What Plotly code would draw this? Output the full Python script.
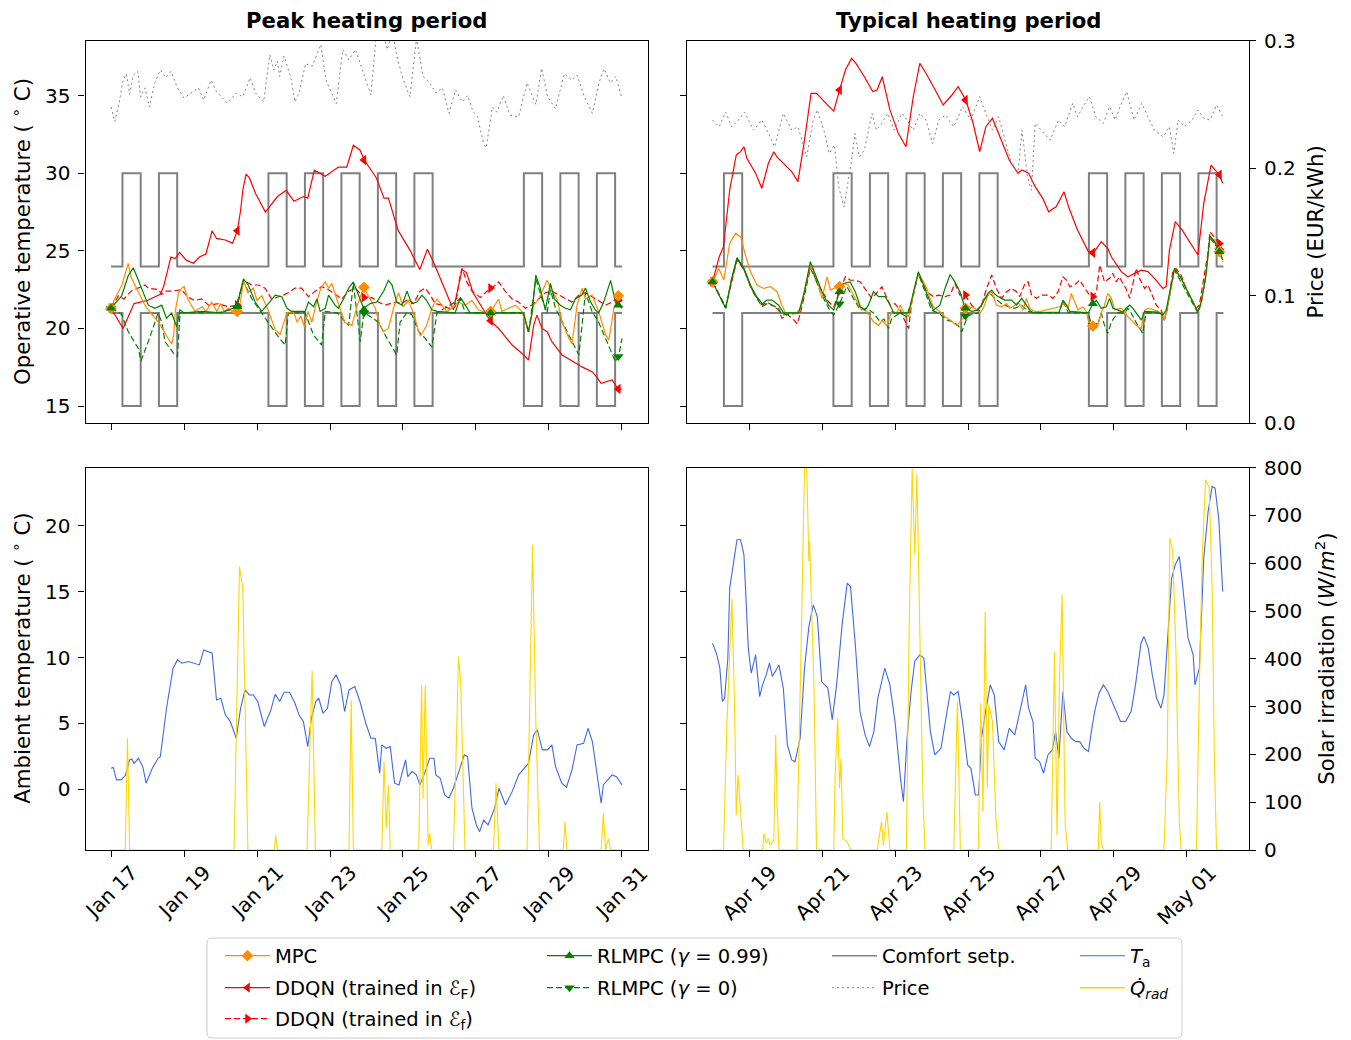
import numpy as np
import pandas as pd
import plotly.graph_objects as go

# page size and the default 8px body margin of the written html page
PAGE_W, PAGE_H = 1351, 1040
OFF = 8
W, H = PAGE_W - OFF, PAGE_H - OFF

# ---------------------------------------------------------------- data
PEAK_START = "2019-01-17"
TYP_START = "2019-04-18"
HORIZON_DAYS = 14
PEAK_TICKS = ["2019-01-17", "2019-01-19", "2019-01-21", "2019-01-23",
              "2019-01-25", "2019-01-27", "2019-01-29", "2019-01-31"]
TYP_TICKS = ["2019-04-19", "2019-04-21", "2019-04-23", "2019-04-25",
             "2019-04-27", "2019-04-29", "2019-05-01"]

# comfort schedule (day offsets with occupancy, hours of occupancy)
PEAK_OCC_DAYS = [0, 1, 4, 5, 6, 7, 8, 11, 12, 13]
TYP_OCC_DAYS = [0, 3, 4, 5, 6, 7, 10, 11, 12, 13]
OCC_HOURS = [7.5, 19.5]
UPPER_SETP = [30, 24]   # occupied, unoccupied
LOWER_SETP = [15, 21]

TEMP_TICKS = [15, 20, 25, 30, 35]
PRICE_TICKS = [0.0, 0.1, 0.2, 0.3]
TA_TICKS = [0, 5, 10, 15, 20]
QRAD_TICKS = [0, 100, 200, 300, 400, 500, 600, 700, 800]

# (day offset, operative temperature degC)
PEAK_MPC = [(0, 21.3), (0.1, 21.9), (0.3, 22.8), (0.47, 24.19), (0.55, 23.3), (0.75, 22.4), (0.95, 21.4),
            (1.3, 20.4), (1.5, 19.6), (1.66, 19.0), (1.72, 19.6), (1.76, 21.1), (1.85, 22.3), (1.94, 22.6),
            (2.0, 22.7), (2.1, 21.9), (2.2, 21.5), (2.3, 21.1), (2.5, 21.4), (2.6, 21.1), (2.76, 21.7),
            (2.9, 21.1), (3.0, 21.6), (3.1, 21.1), (3.21, 21.3), (3.35, 21.0), (3.47, 20.9), (3.55, 21.8),
            (3.63, 23.1), (3.75, 22.3), (3.9, 22.6), (4.0, 21.8), (4.13, 22.1), (4.3, 21.2), (4.5, 19.9),
            (4.63, 19.6), (4.82, 21.0), (5.0, 21.1), (5.1, 20.4), (5.2, 20.8), (5.3, 20.1), (5.4, 21.1),
            (5.5, 20.4), (5.62, 21.6), (5.75, 22.6), (5.87, 23.0), (5.96, 22.6), (6.05, 22.9), (6.2, 21.8),
            (6.4, 20.4), (6.6, 20.2), (6.75, 21.5), (6.92, 22.65), (7.1, 21.9), (7.24, 21.3), (7.37, 20.2),
            (7.47, 19.8), (7.6, 20.0), (7.74, 21.3), (7.88, 22.3), (8.0, 21.4), (8.15, 21.8), (8.3, 20.9),
            (8.43, 19.8), (8.48, 19.5), (8.65, 20.2), (8.79, 21.3), (8.93, 21.9), (9.07, 21.5), (9.2, 21.1),
            (9.34, 21.3), (9.52, 21.7), (9.7, 21.5), (9.89, 21.8), (10.07, 21.2), (10.26, 21.0), (10.44, 21.2),
            (10.62, 21.9), (10.71, 21.1), (10.9, 21.3), (11.08, 21.5), (11.26, 21.1), (11.44, 19.8),
            (11.58, 21.5), (11.72, 21.9), (11.95, 23.1), (12.08, 22.4), (12.22, 21.9), (12.36, 20.4),
            (12.54, 19.4), (12.63, 19.0), (12.77, 21.5), (12.91, 22.6), (13.0, 21.9), (13.18, 22.15),
            (13.36, 21.1), (13.55, 19.6), (13.64, 19.25), (13.78, 21.3), (13.91, 22.15), (14.0, 22.0)]
PEAK_DDQN_F = [(0, 21.3), (0.33, 20.0), (0.63, 21.6), (0.99, 21.8), (1.35, 22.2), (1.44, 22.7), (1.64, 24.6),
               (1.76, 24.5), (1.88, 24.9), (2.06, 24.4), (2.26, 24.2), (2.42, 24.6), (2.6, 24.8), (2.77, 26.3),
               (2.89, 25.8), (3.13, 25.7), (3.33, 25.5), (3.46, 26.3), (3.55, 27.6), (3.61, 28.9), (3.7, 29.95),
               (3.79, 29.7), (3.96, 28.7), (4.23, 27.5), (4.56, 28.5), (4.8, 28.9), (5.01, 28.2), (5.27, 28.5),
               (5.39, 28.4), (5.57, 30.2), (5.87, 29.8), (6.23, 30.4), (6.46, 30.4), (6.64, 31.8), (6.82, 31.5),
               (6.94, 30.85), (7.27, 29.7), (7.48, 28.4), (7.6, 28.4), (7.87, 26.3), (8.19, 25.05), (8.46, 23.8),
               (8.67, 25.1), (8.85, 24.2), (9.08, 22.9), (9.38, 21.2), (9.62, 23.8), (9.74, 23.6), (9.92, 22.3),
               (10.15, 21.4), (10.39, 20.5), (10.62, 20.0), (10.99, 18.93), (11.31, 18.29), (11.44, 17.96),
               (11.58, 20.2), (11.67, 20.86), (11.81, 20.0), (11.95, 19.79), (12.08, 19.15), (12.36, 18.29),
               (12.82, 17.64), (12.89, 17.54), (13.19, 17.2), (13.3, 16.9), (13.43, 16.47), (13.73, 16.68),
               (13.85, 16.25), (13.96, 16.08), (14.0, 16.1)]
PEAK_DDQN_f = [(0, 21.3), (0.2, 22.1), (0.35, 21.9), (0.55, 22.4), (0.93, 22.8), (1.02, 22.6), (1.3, 22.5),
               (1.39, 22.2), (1.48, 22.4), (1.66, 22.4), (1.93, 22.5), (2.12, 22.0), (2.3, 21.8), (2.48, 21.9),
               (2.67, 21.5), (2.94, 21.6), (3.21, 21.4), (3.44, 21.5), (3.63, 23.1), (3.86, 22.8), (4.04, 22.8),
               (4.22, 22.6), (4.4, 21.9), (4.68, 22.1), (4.86, 22.3), (5.04, 22.6), (5.22, 22.6), (5.41, 22.05),
               (5.59, 22.4), (5.77, 22.7), (5.96, 22.5), (6.14, 22.2), (6.32, 21.9), (6.51, 22.4), (6.69, 22.6),
               (6.92, 22.0), (7.05, 21.9), (7.14, 22.0), (7.33, 21.7), (7.51, 21.5), (7.79, 21.7), (7.97, 21.6),
               (8.15, 21.9), (8.29, 21.6), (8.47, 22.4), (8.61, 22.6), (8.75, 22.15), (8.88, 21.6), (9.07, 21.5),
               (9.25, 21.3), (9.43, 21.4), (9.57, 23.5), (9.62, 23.87), (9.75, 23.0), (9.89, 22.4), (10.12, 22.0),
               (10.3, 22.4), (10.44, 22.6), (10.62, 23.0), (10.8, 22.4), (10.99, 21.9), (11.17, 21.7),
               (11.35, 21.3), (11.53, 21.5), (11.72, 21.9), (11.9, 22.3), (12.08, 22.4), (12.27, 22.15),
               (12.45, 21.9), (12.63, 21.7), (12.82, 22.15), (13.0, 22.3), (13.18, 22.05), (13.36, 21.8),
               (13.55, 21.5), (13.73, 21.7), (13.91, 22.0), (14.0, 21.8)]
PEAK_RLMPC_99 = [(0, 21.3), (0.29, 22.1), (0.47, 23.4), (0.61, 23.9), (0.7, 23.4), (0.84, 22.6), (1.02, 21.5),
                 (1.2, 21.3), (1.39, 21.5), (1.52, 20.65), (1.66, 21.0), (1.8, 20.1), (1.89, 21.2), (2.0, 21.0),
                 (2.5, 21.1), (3.0, 21.0), (3.44, 21.4), (3.63, 23.2), (3.76, 22.8), (3.95, 21.7), (4.13, 21.1),
                 (4.31, 21.6), (4.5, 22.15), (4.68, 22.05), (4.82, 21.3), (4.95, 21.1), (5.32, 21.1), (5.41, 21.7),
                 (5.55, 21.4), (5.64, 21.9), (5.73, 21.1), (5.87, 21.3), (5.96, 22.15), (6.14, 21.5), (6.23, 21.3),
                 (6.37, 21.9), (6.51, 22.6), (6.64, 23.0), (6.78, 22.15), (6.92, 21.3), (7.1, 21.6), (7.28, 21.7),
                 (7.47, 22.4), (7.6, 23.1), (7.7, 22.8), (7.83, 21.7), (7.97, 21.5), (8.11, 22.4), (8.24, 21.6),
                 (8.38, 21.7), (8.52, 22.15), (8.65, 21.8), (8.79, 21.2), (8.93, 21.1), (9.43, 21.0), (9.57, 22.0),
                 (9.71, 21.5), (9.84, 21.0), (10.5, 21.0), (11.3, 21.0), (11.44, 19.8), (11.53, 20.9),
                 (11.64, 23.44), (11.76, 22.6), (11.9, 21.2), (12.04, 22.9), (12.15, 21.9), (12.31, 21.5),
                 (12.45, 21.3), (12.59, 21.2), (12.72, 21.9), (12.9, 22.15), (13.0, 22.6), (13.14, 21.7),
                 (13.27, 21.2), (13.36, 21.0), (13.5, 21.7), (13.69, 23.1), (13.82, 21.7), (13.91, 21.5),
                 (14.0, 21.3)]
PEAK_RLMPC_0 = [(0, 21.3), (0.29, 20.9), (0.47, 19.8), (0.75, 18.7), (0.82, 17.9), (1.02, 19.15), (1.29, 21.0),
                (1.39, 20.4), (1.48, 19.15), (1.75, 18.29), (1.82, 18.2), (1.89, 21.0), (2.5, 21.0), (3.0, 21.05),
                (3.44, 21.3), (3.63, 23.0), (3.86, 21.9), (4.13, 21.0), (4.31, 20.4), (4.54, 19.6), (4.77, 18.93),
                (4.86, 21.0), (5.32, 21.0), (5.41, 20.4), (5.55, 19.57), (5.77, 18.93), (5.87, 21.1), (6.2, 21.0),
                (6.51, 20.2), (6.64, 22.9), (6.83, 19.15), (6.92, 20.9), (6.96, 21.0), (7.33, 20.4), (7.56, 19.36),
                (7.83, 18.3), (7.92, 20.4), (8.1, 21.0), (8.24, 20.9), (8.43, 19.8), (8.61, 19.36), (8.79, 18.8),
                (8.93, 21.0), (9.57, 21.9), (9.71, 21.0), (11.3, 21.0), (11.44, 19.68), (11.64, 23.2),
                (11.81, 21.9), (11.95, 21.0), (12.04, 22.5), (12.18, 21.3), (12.36, 20.4), (12.59, 19.36),
                (12.82, 18.3), (12.95, 21.5), (13.0, 22.3), (13.18, 21.1), (13.36, 20.4), (13.55, 19.36),
                (13.82, 17.86), (13.91, 18.2), (14.0, 19.36)]
# (day offset, price EUR/kWh)
PEAK_PRICE = [(0, 0.248), (0.1, 0.2365), (0.21, 0.2494), (0.33, 0.269), (0.42, 0.274), (0.51, 0.258),
              (0.61, 0.273), (0.73, 0.276), (0.81, 0.256), (0.93, 0.263), (1.05, 0.248), (1.2, 0.267),
              (1.35, 0.277), (1.5, 0.271), (1.64, 0.276), (1.82, 0.263), (2.0, 0.255), (2.18, 0.259),
              (2.39, 0.263), (2.54, 0.2535), (2.74, 0.269), (2.89, 0.260), (3.19, 0.251), (3.43, 0.259),
              (3.61, 0.256), (3.81, 0.271), (3.96, 0.259), (4.18, 0.252), (4.35, 0.289), (4.46, 0.277),
              (4.56, 0.284), (4.62, 0.272), (4.74, 0.288), (4.92, 0.272), (5.04, 0.252), (5.15, 0.259),
              (5.33, 0.282), (5.51, 0.280), (5.63, 0.288), (5.75, 0.297), (5.89, 0.269), (6.17, 0.2508),
              (6.35, 0.293), (6.52, 0.285), (6.7, 0.293), (6.88, 0.277), (7.12, 0.2575), (7.27, 0.305),
              (7.42, 0.31), (7.57, 0.293), (7.71, 0.308), (7.83, 0.288), (8.01, 0.269), (8.19, 0.256),
              (8.37, 0.302), (8.55, 0.272), (8.73, 0.267), (8.9, 0.259), (9.08, 0.263), (9.26, 0.243),
              (9.44, 0.2615), (9.62, 0.252), (9.77, 0.257), (9.92, 0.2444), (10.04, 0.2404), (10.21, 0.2194),
              (10.28, 0.216), (10.45, 0.248), (10.57, 0.244), (10.75, 0.257), (10.93, 0.2417), (11.17, 0.2404),
              (11.4, 0.267), (11.64, 0.25), (11.8, 0.2784), (11.96, 0.2562), (12.18, 0.2466), (12.42, 0.274),
              (12.63, 0.269), (12.77, 0.273), (12.96, 0.2567), (13.19, 0.243), (13.37, 0.267), (13.51, 0.278),
              (13.68, 0.267), (13.83, 0.272), (14.0, 0.2545)]
# (day offset, ambient temperature degC)
PEAK_TA = [(0, 1.59), (0.06, 1.65), (0.15, 0.71), (0.27, 0.71), (0.39, 1.04), (0.45, 1.6), (0.51, 2.23),
           (0.57, 2.3), (0.63, 1.95), (0.75, 2.35), (0.87, 1.72), (0.96, 0.46), (1.05, 1.09), (1.13, 1.6),
           (1.29, 2.35), (1.35, 2.48), (1.52, 6.15), (1.7, 9.19), (1.82, 9.82), (1.94, 9.57), (2.12, 9.7),
           (2.3, 9.57), (2.42, 9.44), (2.54, 10.58), (2.65, 10.46), (2.77, 10.33), (2.89, 6.78), (3.01, 6.91),
           (3.13, 5.65), (3.27, 5.14), (3.43, 3.87), (3.55, 6.15), (3.67, 7.54), (3.79, 7.16), (3.9, 7.16),
           (4.02, 6.66), (4.2, 4.76), (4.38, 6.03), (4.5, 7.22), (4.62, 6.66), (4.74, 7.37), (4.89, 7.37),
           (5.04, 6.53), (5.15, 5.65), (5.27, 5.14), (5.39, 3.24), (5.49, 5.39), (5.61, 6.66), (5.69, 6.91),
           (5.81, 5.77), (5.93, 6.15), (6.05, 8.18), (6.17, 8.68), (6.29, 7.92), (6.4, 5.9), (6.52, 7.54),
           (6.68, 7.8), (6.82, 6.66), (6.98, 5.01), (7.12, 3.87), (7.24, 3.87), (7.3, 2.61), (7.36, 1.22),
           (7.42, 3.37), (7.54, 3.11), (7.65, 3.24), (7.77, 0.46), (7.89, 0.33), (8.07, 2.23), (8.13, 0.96),
           (8.25, 1.34), (8.37, 1.09), (8.46, 0.33), (8.61, 1.34), (8.73, 2.35), (8.85, 2.35), (8.9, 1.09),
           (9.02, 0.84), (9.14, -0.43), (9.26, -0.68), (9.38, 0.08), (9.56, 1.59), (9.68, 2.61), (9.77, 2.48),
           (9.89, -1.44), (10.01, -2.71), (10.1, -3.22), (10.21, -2.33), (10.33, -2.71), (10.51, -1.44),
           (10.63, 0.08), (10.81, -1.19), (10.99, -0.18), (11.17, 1.09), (11.29, 1.47), (11.44, 1.97),
           (11.58, 4.13), (11.68, 4.51), (11.82, 2.99), (11.96, 2.99), (12.08, 3.37), (12.18, 1.72),
           (12.35, 0.46), (12.48, 0.15), (12.63, 1.47), (12.77, 3.37), (12.95, 3.49), (13.07, 4.63),
           (13.19, 3.62), (13.31, 1.34), (13.43, -1.06), (13.49, 0.33), (13.61, 0.71), (13.73, 1.09),
           (13.85, 0.96), (14.0, 0.33)]
# (day offset, solar irradiation W/m2)
PEAK_QRAD = [(0, 0), (0.39, 0), (0.45, 234), (0.51, 0), (3.37, 0), (3.52, 593), (3.61, 548), (3.75, 0),
             (4.48, 0), (4.51, 31), (4.56, 0), (5.37, 0), (5.51, 375), (5.6, 0), (6.52, 0), (6.58, 314),
             (6.64, 0), (7.42, 0), (7.48, 185), (7.54, 45), (7.6, 136), (7.65, 0), (8.43, 0), (8.51, 345),
             (8.55, 108), (8.61, 345), (8.69, 10), (8.73, 35), (8.79, 0), (9.38, 0), (9.44, 154), (9.52, 405),
             (9.58, 352), (9.65, 129), (9.7, 0), (10.48, 0), (10.55, 140), (10.63, 0), (11.4, 0), (11.55, 639),
             (11.64, 269), (11.74, 0), (12.39, 0), (12.44, 59), (12.49, 0), (13.43, 0), (13.49, 77),
             (13.55, 0), (13.63, 24), (13.69, 0), (14.0, 0)]

TYP_MPC = [(0, 23.0), (0.17, 23.87), (0.31, 23.12), (0.4, 24.6), (0.47, 25.5), (0.63, 26.13), (0.77, 25.9),
           (0.9, 24.73), (1.04, 23.66), (1.22, 22.8), (1.4, 22.58), (1.59, 22.69), (1.77, 22.37), (1.9, 21.5),
           (2.0, 21.0), (2.3, 21.0), (2.41, 21.3), (2.68, 24.09), (2.86, 23.2), (3.0, 21.94), (3.14, 23.33),
           (3.23, 22.47), (3.41, 22.69), (3.59, 22.9), (3.72, 22.8), (3.86, 22.15), (4.05, 21.3), (4.23, 21.1),
           (4.41, 20.43), (4.55, 20.2), (4.64, 20.5), (4.78, 20.2), (4.91, 21.1), (5.05, 21.0), (5.14, 21.5),
           (5.23, 21.1), (5.37, 20.76), (5.5, 22.15), (5.64, 23.55), (5.78, 23.0), (5.87, 22.58), (5.96, 21.94),
           (6.05, 21.4), (6.23, 21.1), (6.37, 20.76), (6.51, 20.54), (6.69, 20.2), (6.87, 20.65), (6.96, 21.3),
           (7.01, 21.4), (7.19, 21.3), (7.33, 21.0), (7.42, 21.3), (7.55, 22.15), (7.65, 22.37), (7.78, 21.5),
           (7.92, 21.4), (8.06, 21.6), (8.15, 21.3), (8.28, 21.5), (8.37, 21.7), (8.51, 21.18), (8.6, 21.94),
           (8.69, 21.3), (8.83, 21.1), (9.0, 21.1), (9.33, 21.3), (9.51, 21.4), (9.65, 21.6), (9.74, 21.3),
           (9.83, 22.26), (9.92, 21.7), (10.01, 21.2), (10.15, 21.4), (10.24, 21.1), (10.33, 20.2),
           (10.42, 20.15), (10.56, 20.2), (10.65, 21.0), (10.74, 21.5), (10.83, 22.26), (10.93, 21.94),
           (11.02, 21.2), (11.2, 21.3), (11.29, 21.0), (11.38, 20.76), (11.52, 20.43), (11.65, 20.11),
           (11.75, 20.0), (11.84, 21.18), (11.93, 21.3), (12.11, 21.2), (12.29, 21.0), (12.38, 20.54),
           (12.45, 21.2), (12.66, 23.87), (12.84, 23.23), (13.02, 22.37), (13.2, 21.5), (13.3, 21.08),
           (13.39, 21.7), (13.52, 23.44), (13.63, 25.9), (13.75, 25.7), (13.89, 24.95), (13.98, 24.4)]
TYP_DDQN_F = [(0, 23.0), (0.18, 24.6), (0.3, 25.27), (0.47, 28.92), (0.65, 31.18), (0.77, 31.39), (0.86, 31.71),
              (0.94, 30.96), (1.18, 30.0), (1.35, 29.03), (1.53, 30.64), (1.68, 31.39), (1.76, 31.07),
              (1.94, 30.64), (2.17, 30.1), (2.34, 29.46), (2.52, 32.14), (2.7, 35.15), (2.85, 35.15),
              (3.11, 34.5), (3.32, 34.0), (3.48, 35.36), (3.64, 36.65), (3.81, 37.4), (3.93, 37.08),
              (4.16, 36.22), (4.39, 35.26), (4.51, 35.36), (4.65, 36.22), (4.86, 34.08), (5.09, 32.57),
              (5.3, 31.71), (5.5, 34.93), (5.68, 37.08), (5.85, 36.44), (6.15, 35.15), (6.32, 34.4),
              (6.56, 35.04), (6.73, 35.58), (6.94, 34.72), (7.14, 33.22), (7.32, 31.39), (7.49, 33.0),
              (7.67, 33.54), (7.9, 32.14), (8.13, 30.85), (8.37, 30.0), (8.48, 30.21), (8.66, 30.0),
              (8.84, 29.14), (9.05, 28.38), (9.21, 27.52), (9.42, 27.85), (9.63, 28.81), (9.77, 27.74),
              (10.0, 26.34), (10.3, 24.95), (10.44, 24.88), (10.65, 25.59), (10.83, 25.16), (10.93, 24.6),
              (11.2, 23.66), (11.38, 23.33), (11.56, 23.55), (11.75, 23.76), (11.93, 23.66), (12.11, 23.23),
              (12.34, 22.58), (12.43, 22.7), (12.52, 25.05), (12.68, 26.88), (12.87, 26.34), (13.11, 25.48),
              (13.3, 24.73), (13.46, 28.06), (13.66, 30.53), (13.81, 30.1), (13.89, 29.89), (13.98, 29.35)]
TYP_DDQN_f = [(0, 23.0), (0.36, 21.4), (0.67, 24.4), (0.86, 23.8), (1.04, 22.7), (1.18, 22.1), (1.36, 21.5),
              (1.49, 21.7), (1.63, 21.5), (1.81, 21.2), (1.9, 20.65), (2.05, 20.9), (2.23, 20.54), (2.32, 20.3),
              (2.41, 21.0), (2.68, 23.87), (2.95, 22.6), (3.18, 21.72), (3.32, 21.4), (3.48, 22.4), (3.64, 23.33),
              (3.77, 23.12), (3.91, 23.1), (4.05, 23.0), (4.23, 22.37), (4.36, 21.94), (4.5, 22.3), (4.64, 22.69),
              (4.73, 22.2), (4.87, 21.5), (5.0, 21.6), (5.14, 21.18), (5.28, 20.43), (5.37, 20.0), (5.46, 21.7),
              (5.64, 23.55), (5.87, 22.37), (6.05, 22.05), (6.19, 22.15), (6.37, 22.05), (6.51, 22.15),
              (6.64, 22.9), (6.78, 22.15), (6.92, 22.15), (7.1, 21.5), (7.24, 21.18), (7.37, 21.5), (7.51, 22.58),
              (7.65, 23.44), (7.78, 22.58), (7.92, 21.94), (8.06, 22.37), (8.19, 22.58), (8.33, 22.37),
              (8.42, 22.05), (8.56, 22.9), (8.65, 23.0), (8.74, 22.15), (8.88, 21.94), (9.01, 22.15),
              (9.19, 22.15), (9.33, 21.94), (9.47, 22.37), (9.6, 23.33), (9.7, 23.12), (9.79, 22.69),
              (9.92, 22.8), (10.06, 23.12), (10.2, 22.58), (10.33, 22.15), (10.42, 22.05), (10.52, 22.37),
              (10.61, 24.09), (10.74, 23.0), (10.88, 23.23), (10.97, 23.55), (11.06, 23.0), (11.15, 23.33),
              (11.24, 22.9), (11.33, 22.58), (11.43, 21.94), (11.52, 22.9), (11.61, 23.87), (11.7, 23.23),
              (11.84, 22.58), (11.93, 22.8), (12.07, 21.94), (12.16, 21.5), (12.29, 21.18), (12.38, 20.54),
              (12.47, 21.3), (12.61, 23.66), (12.7, 23.87), (12.84, 23.44), (12.98, 22.58), (13.11, 21.94),
              (13.25, 21.3), (13.34, 21.5), (13.48, 23.44), (13.57, 24.8), (13.63, 26.24), (13.75, 25.9),
              (13.89, 25.48), (13.98, 25.05)]
TYP_RLMPC_99 = [(0, 23.0), (0.36, 21.3), (0.52, 23.2), (0.67, 24.56), (0.86, 23.87), (1.04, 22.8), (1.18, 22.15),
                (1.36, 21.6), (1.49, 21.83), (1.63, 21.83), (1.81, 21.5), (1.95, 21.0), (2.36, 21.0), (2.5, 22.2),
                (2.68, 24.3), (2.82, 23.44), (3.0, 22.37), (3.18, 21.5), (3.32, 21.18), (3.48, 22.37),
                (3.59, 22.9), (3.77, 23.0), (3.91, 22.37), (4.05, 21.4), (4.18, 21.2), (4.27, 21.5),
                (4.41, 22.37), (4.55, 22.05), (4.73, 22.05), (4.87, 21.5), (4.96, 21.0), (5.37, 21.0),
                (5.46, 21.94), (5.64, 23.66), (5.78, 22.8), (5.96, 21.7), (6.05, 21.18), (6.23, 21.5),
                (6.37, 22.58), (6.51, 23.48), (6.64, 23.0), (6.78, 22.37), (6.92, 21.3), (7.1, 21.1),
                (7.28, 21.18), (7.42, 21.72), (7.55, 22.26), (7.65, 22.47), (7.74, 22.2), (7.83, 22.05),
                (8.01, 21.83), (8.19, 21.83), (8.33, 21.5), (8.47, 21.94), (8.56, 21.6), (8.69, 21.18),
                (8.8, 21.0), (9.5, 21.05), (9.6, 21.83), (9.7, 21.5), (9.79, 21.1), (10.3, 21.0), (10.42, 21.6),
                (10.52, 21.8), (10.65, 21.3), (10.79, 21.4), (10.88, 21.94), (10.97, 21.3), (11.1, 21.2),
                (11.24, 21.05), (11.33, 21.3), (11.43, 21.5), (11.52, 21.3), (11.65, 20.9), (11.75, 20.54),
                (11.84, 21.1), (12.2, 21.05), (12.34, 20.86), (12.43, 21.2), (12.66, 23.87), (12.84, 23.23),
                (13.02, 22.37), (13.2, 21.5), (13.3, 21.08), (13.39, 21.7), (13.52, 23.44), (13.63, 25.96),
                (13.75, 25.6), (13.89, 24.95), (13.98, 24.41)]
TYP_RLMPC_0 = [(0, 23.0), (0.36, 21.3), (0.52, 23.1), (0.67, 24.5), (0.86, 23.8), (1.04, 22.7), (1.18, 22.05),
               (1.36, 21.4), (1.49, 21.6), (1.63, 21.5), (1.81, 21.3), (1.9, 20.86), (2.36, 21.0), (2.5, 22.0),
               (2.68, 24.09), (2.95, 22.37), (3.18, 21.3), (3.32, 20.86), (3.48, 21.6), (3.68, 22.7),
               (3.86, 21.94), (4.05, 21.18), (4.23, 21.3), (4.41, 21.0), (4.59, 20.43), (4.7, 20.6), (4.82, 20.0),
               (4.91, 20.65), (5.14, 21.0), (5.32, 20.76), (5.46, 21.83), (5.64, 23.55), (5.82, 22.37),
               (6.0, 21.18), (6.19, 21.0), (6.42, 20.54), (6.6, 20.43), (6.73, 20.2), (6.83, 19.79), (6.99, 20.8),
               (7.1, 20.9), (7.28, 21.0), (7.46, 21.94), (7.6, 22.26), (7.74, 21.94), (7.92, 21.6), (8.1, 21.4),
               (8.28, 21.3), (8.47, 21.5), (8.65, 21.1), (8.8, 21.0), (9.5, 21.0), (9.6, 21.8), (9.75, 21.0),
               (10.3, 21.0), (10.38, 20.2), (10.42, 20.2), (10.56, 20.3), (10.65, 21.0), (10.74, 20.2),
               (10.83, 19.68), (10.93, 20.43), (11.1, 21.0), (11.29, 21.0), (11.38, 21.3), (11.47, 21.0),
               (11.65, 20.2), (11.79, 19.68), (11.88, 21.0), (12.29, 21.0), (12.38, 20.54), (12.45, 21.2),
               (12.66, 23.76), (12.84, 23.0), (13.02, 22.15), (13.2, 21.4), (13.3, 21.0), (13.39, 21.6),
               (13.52, 23.4), (13.63, 25.8), (13.75, 25.5), (13.89, 25.0), (13.98, 24.3)]
TYP_PRICE = [(0, 0.2378), (0.18, 0.2325), (0.36, 0.244), (0.53, 0.2325), (0.71, 0.2378), (0.88, 0.244),
             (1.12, 0.2299), (1.35, 0.2378), (1.53, 0.2273), (1.7, 0.2168), (1.94, 0.2430), (2.17, 0.2299),
             (2.34, 0.2325), (2.58, 0.209), (2.76, 0.2378), (2.87, 0.2457), (3.05, 0.2299), (3.2, 0.2116),
             (3.34, 0.2182), (3.46, 0.1852), (3.6, 0.1695), (3.71, 0.1879), (3.81, 0.2064), (3.9, 0.2273),
             (4.02, 0.209), (4.16, 0.2142), (4.37, 0.2430), (4.49, 0.2299), (4.63, 0.2352), (4.8, 0.2430),
             (4.98, 0.2299), (5.19, 0.2430), (5.33, 0.2378), (5.5, 0.2299), (5.68, 0.2430), (5.85, 0.2378),
             (6.03, 0.2194), (6.2, 0.2378), (6.38, 0.2417), (6.61, 0.2325), (6.85, 0.2483), (7.08, 0.2378),
             (7.32, 0.2562), (7.49, 0.2430), (7.67, 0.2299), (7.84, 0.2404), (8.02, 0.2220), (8.19, 0.2037),
             (8.37, 0.1958), (8.48, 0.2299), (8.63, 0.1932), (8.74, 0.1827), (8.84, 0.2352), (9.01, 0.2299),
             (9.25, 0.2220), (9.48, 0.2378), (9.65, 0.2325), (9.87, 0.2509), (10.0, 0.2404), (10.18, 0.2496),
             (10.33, 0.2562), (10.5, 0.2404), (10.71, 0.2352), (10.88, 0.2483), (11.03, 0.2378), (11.17, 0.2483),
             (11.35, 0.2601), (11.55, 0.2378), (11.76, 0.2509), (11.93, 0.2404), (12.11, 0.2299), (12.35, 0.2246),
             (12.52, 0.2325), (12.64, 0.2116), (12.76, 0.2378), (12.93, 0.2325), (13.14, 0.2378), (13.3, 0.2457),
             (13.46, 0.2391), (13.63, 0.2378), (13.81, 0.2496), (13.98, 0.2404)]
TYP_TA = [(0, 11.09), (0.12, 10.2), (0.2, 9.19), (0.27, 6.66), (0.33, 6.91), (0.42, 9.95), (0.47, 15.27),
          (0.59, 17.29), (0.67, 18.94), (0.77, 18.94), (0.86, 17.8), (0.98, 10.71), (1.06, 8.81), (1.18, 10.2),
          (1.29, 7.04), (1.37, 7.92), (1.47, 8.68), (1.56, 9.57), (1.64, 8.56), (1.82, 9.44), (1.94, 7.67),
          (2.05, 3.37), (2.17, 2.23), (2.26, 2.1), (2.4, 3.87), (2.52, 9.19), (2.64, 12.35), (2.76, 14.0),
          (2.87, 13.11), (2.99, 8.18), (3.16, 7.67), (3.28, 5.27), (3.4, 7.92), (3.55, 12.48), (3.69, 15.65),
          (3.78, 15.39), (3.92, 10.71), (4.04, 5.9), (4.18, 4.13), (4.3, 3.24), (4.42, 4.38), (4.53, 6.91),
          (4.63, 8.18), (4.72, 9.19), (4.86, 7.92), (5.0, 5.14), (5.15, 0.84), (5.23, -0.94), (5.33, 3.87),
          (5.44, 7.42), (5.54, 9.7), (5.68, 10.2), (5.79, 9.95), (5.97, 4.38), (6.09, 2.61), (6.26, 3.11),
          (6.44, 6.15), (6.52, 7.42), (6.61, 7.16), (6.73, 7.42), (6.85, 5.14), (6.99, 1.85), (7.08, 1.59),
          (7.2, -0.43), (7.29, -0.43), (7.37, 3.87), (7.49, 6.03), (7.61, 7.92), (7.72, 7.16), (7.84, 3.62),
          (7.99, 2.99), (8.13, 4.63), (8.28, 4.13), (8.43, 6.15), (8.58, 7.92), (8.66, 6.15), (8.78, 5.14),
          (8.84, 2.35), (8.96, 2.1), (9.07, 1.22), (9.19, 2.61), (9.31, 2.99), (9.4, 4.38), (9.49, 2.35),
          (9.6, 7.42), (9.71, 4.38), (9.83, 3.87), (9.95, 3.62), (10.06, 3.62), (10.18, 3.11), (10.3, 2.86),
          (10.38, 4.38), (10.47, 5.9), (10.59, 7.29), (10.71, 7.92), (10.83, 7.42), (10.94, 6.66),
          (11.06, 5.9), (11.18, 5.14), (11.32, 5.14), (11.47, 5.9), (11.59, 7.92), (11.74, 11.09),
          (11.82, 11.59), (11.94, 10.71), (12.05, 8.68), (12.17, 6.91), (12.29, 6.15), (12.37, 7.16),
          (12.49, 12.23), (12.58, 16.03), (12.68, 17.04), (12.79, 17.67), (12.87, 15.77), (12.95, 13.49),
          (13.03, 11.47), (13.17, 10.2), (13.22, 7.92), (13.34, 9.19), (13.46, 17.54), (13.58, 21.09),
          (13.69, 22.99), (13.77, 22.86), (13.87, 20.58), (13.98, 15.01)]
TYP_QRAD = [(0, 0), (0.3, 0), (0.39, 255), (0.44, 360), (0.53, 527), (0.6, 311), (0.65, 73), (0.7, 157),
            (0.77, 73), (0.84, 0), (1.37, 0), (1.41, 35), (1.47, 14), (1.53, 24), (1.58, 10), (1.68, 21),
            (1.73, 241), (1.77, 94), (1.82, 0), (2.31, 0), (2.43, 436), (2.52, 800), (2.58, 800), (2.64, 604),
            (2.66, 646), (2.72, 478), (2.78, 339), (2.85, 0), (3.32, 0), (3.36, 157), (3.43, 276), (3.48, 129),
            (3.52, 192), (3.57, 24), (3.69, 17), (3.78, 0), (4.51, 0), (4.63, 59), (4.68, 10), (4.78, 80),
            (4.86, 0), (5.31, 0), (5.39, 478), (5.47, 800), (5.54, 618), (5.6, 786), (5.68, 478), (5.76, 129),
            (5.82, 0), (6.61, 0), (6.71, 311), (6.79, 0), (7.28, 0), (7.35, 307), (7.41, 80), (7.47, 499),
            (7.53, 129), (7.57, 304), (7.67, 269), (7.76, 73), (7.84, 0), (9.28, 0), (9.37, 415), (9.44, 31),
            (9.51, 367), (9.58, 534), (9.66, 59), (9.73, 0), (10.57, 0), (10.61, 101), (10.65, 17),
            (10.71, 0), (12.37, 0), (12.46, 199), (12.53, 653), (12.61, 625), (12.7, 408), (12.79, 59),
            (12.84, 0), (13.26, 0), (13.34, 339), (13.42, 618), (13.51, 775), (13.61, 758), (13.69, 548),
            (13.75, 199), (13.81, 0), (13.98, 0)]

# marker positions (day offsets) and values read at those markers
PEAK_MARK_DAYS = [0, 3.46, 6.93, 10.4, 13.9]
PEAK_MARKS = {
    "MPC": [21.3, 21.1, 22.65, 21.1, 22.1],
    "DDQN_F": [21.3, 26.3, 30.85, 20.5, 16.1],
    "DDQN_f": [21.3, 21.5, 22.0, 22.6, 21.8],
    "RLMPC_99": [21.3, 21.4, 21.2, 21.0, 21.5],
    "RLMPC_0": [21.3, 21.3, 21.0, 20.9, 18.2],
}
TYP_MARK_DAYS = [0, 3.48, 6.93, 10.42, 13.89]
TYP_MARKS = {
    "MPC": [23.0, 22.7, 21.3, 20.15, 24.95],
    "DDQN_F": [23.0, 35.36, 34.72, 24.88, 29.9],
    "DDQN_f": [23.0, 22.4, 22.15, 22.05, 25.48],
    "RLMPC_99": [23.0, 22.37, 21.3, 21.6, 24.95],
    "RLMPC_0": [23.0, 21.6, 20.8, 20.2, 25.0],
}

# ---------------------------------------------------------------- styles
FONT = "DejaVu Sans"
FS_TICK = 20
FS_LEG = 19.5
FS_LABEL = 21.3
FS_TITLE = 21.2
C_MPC = "#ff8c00"
C_RED = "#ff0000"
C_GREEN = "#008000"
C_GREY = "#808080"
C_TA = "#4169e1"
C_QRAD = "#ffd700"
DASH = "6px,3px"
DOT = "2px,3px"

SERIES_STYLE = {
    "MPC": dict(color=C_MPC, dash="solid", symbol="diamond",
                name="MPC"),
    "DDQN_F": dict(color=C_RED, dash="solid", symbol="triangle-left",
                   name="DDQN (trained in ℰ<sub>F</sub>)"),
    "DDQN_f": dict(color=C_RED, dash=DASH, symbol="triangle-right",
                   name="DDQN (trained in ℰ<sub>f</sub>)"),
    "RLMPC_99": dict(color=C_GREEN, dash="solid", symbol="triangle-up",
                     name="RLMPC (<i>γ</i> = 0.99)"),
    "RLMPC_0": dict(color=C_GREEN, dash=DASH, symbol="triangle-down",
                    name="RLMPC (<i>γ</i> = 0)"),
}
PEAK_SERIES = {"MPC": PEAK_MPC, "DDQN_F": PEAK_DDQN_F, "DDQN_f": PEAK_DDQN_f,
               "RLMPC_99": PEAK_RLMPC_99, "RLMPC_0": PEAK_RLMPC_0}
TYP_SERIES = {"MPC": TYP_MPC, "DDQN_F": TYP_DDQN_F, "DDQN_f": TYP_DDQN_f,
              "RLMPC_99": TYP_RLMPC_99, "RLMPC_0": TYP_RLMPC_0}


def to_time(start, days):
    return pd.Timestamp(start) + pd.to_timedelta(np.asarray(days, dtype=float), unit="D")


def unzip(pairs):
    return [p[0] for p in pairs], [p[1] for p in pairs]


def comfort(occ_days, setp):
    occ_val, free_val = setp
    d, v = [0.0], [free_val]
    for day in occ_days:
        a = day + OCC_HOURS[0] / 24.0
        b = day + OCC_HOURS[1] / 24.0
        d += [a, a, b, b]
        v += [free_val, occ_val, occ_val, free_val]
    d.append(HORIZON_DAYS)
    v.append(free_val)
    return d, v


# page pixel -> paper coordinates
def px(xv):
    return (xv - OFF) / W


def py(yv):
    return 1 - (yv - OFF) / H


XL = [85.5, 647.5]
XR = [687.0, 1249.0]
YT = [40.7, 423.3]
YB = [467.7, 850.0]


def xdom(p):
    return [px(p[0]), px(p[1])]


def ydom(p):
    return [py(p[1]), py(p[0])]


fig = go.Figure()

panels = [
    dict(start=PEAK_START, occ=PEAK_OCC_DAYS, series=PEAK_SERIES, marks=PEAK_MARKS,
         mdays=PEAK_MARK_DAYS, price=PEAK_PRICE, ta=PEAK_TA, qrad=PEAK_QRAD,
         top=("x", "y", "y2"), bot=("x3", "y5", "y6")),
    dict(start=TYP_START, occ=TYP_OCC_DAYS, series=TYP_SERIES, marks=TYP_MARKS,
         mdays=TYP_MARK_DAYS, price=TYP_PRICE, ta=TYP_TA, qrad=TYP_QRAD,
         top=("x2", "y3", "y4"), bot=("x4", "y7", "y8")),
]

for p in panels:
    xa, ya, ya2 = p["top"]
    for setp in (UPPER_SETP, LOWER_SETP):
        d, v = comfort(p["occ"], setp)
        fig.add_trace(go.Scatter(x=to_time(p["start"], d), y=v, mode="lines",
                                 line=dict(color=C_GREY, width=2), showlegend=False,
                                 xaxis=xa, yaxis=ya, hoverinfo="skip"))
    order = ["DDQN_f", "DDQN_F", "RLMPC_0", "MPC", "RLMPC_99"]
    for key in order:
        st = SERIES_STYLE[key]
        d, v = unzip(p["series"][key])
        fig.add_trace(go.Scatter(x=to_time(p["start"], d), y=v, mode="lines",
                                 line=dict(color=st["color"], width=1.2, dash=st["dash"]),
                                 showlegend=False, xaxis=xa, yaxis=ya))
    for key in order:
        st = SERIES_STYLE[key]
        fig.add_trace(go.Scatter(x=to_time(p["start"], p["mdays"]), y=p["marks"][key],
                                 mode="markers",
                                 marker=dict(symbol=st["symbol"], size=9, color=st["color"],
                                             line=dict(width=0)),
                                 showlegend=False, xaxis=xa, yaxis=ya))
    d, v = unzip(p["price"])
    fig.add_trace(go.Scatter(x=to_time(p["start"], d), y=v, mode="lines",
                             line=dict(color=C_GREY, width=1, dash=DOT),
                             showlegend=False, xaxis=xa, yaxis=ya2))
    xb, yb, yb2 = p["bot"]
    d, v = unzip(p["ta"])
    fig.add_trace(go.Scatter(x=to_time(p["start"], d), y=v, mode="lines",
                             line=dict(color=C_TA, width=1.1), showlegend=False,
                             xaxis=xb, yaxis=yb))
    d, v = unzip(p["qrad"])
    fig.add_trace(go.Scatter(x=to_time(p["start"], d), y=v, mode="lines",
                             line=dict(color=C_QRAD, width=1.1), showlegend=False,
                             xaxis=xb, yaxis=yb2))

# ---------------------------------------------------------------- legend
LEG_ROWS = [956, 988, 1019]
LEG_TEXT_X = [275, 597, 882, 1130]
legend_items = [
    ("MPC", 0, 0), ("DDQN_F", 0, 1), ("DDQN_f", 0, 2),
    ("RLMPC_99", 1, 0), ("RLMPC_0", 1, 1),
    ("COMFORT", 2, 0), ("PRICE", 2, 1),
    ("TA", 3, 0), ("QRAD", 3, 1),
]
ITEMW = 45
legend_layouts = {}
for i, (key, col, row) in enumerate(legend_items):
    lid = "legend" if i == 0 else f"legend{i + 1}"
    if key in SERIES_STYLE:
        st = SERIES_STYLE[key]
        tr = go.Scatter(x=[None], y=[None], mode="lines+markers", name=st["name"],
                        line=dict(color=st["color"], width=1.2, dash=st["dash"]),
                        marker=dict(symbol=st["symbol"], size=9, color=st["color"]))
    elif key == "COMFORT":
        tr = go.Scatter(x=[None], y=[None], mode="lines", name="Comfort setp.",
                        line=dict(color=C_GREY, width=1.6))
    elif key == "PRICE":
        tr = go.Scatter(x=[None], y=[None], mode="lines", name="Price",
                        line=dict(color=C_GREY, width=1, dash=DOT))
    elif key == "TA":
        tr = go.Scatter(x=[None], y=[None], mode="lines", name="<i>T</i><sub>a</sub>",
                        line=dict(color=C_TA, width=1.1))
    else:
        tr = go.Scatter(x=[None], y=[None], mode="lines",
                        name="<i>Q\u0307</i><sub><i>rad</i></sub>",
                        line=dict(color=C_QRAD, width=1.6))
    tr.update(legend=lid, showlegend=True, xaxis="x", yaxis="y")
    fig.add_trace(tr)
    legend_layouts[lid] = dict(
        x=px(LEG_TEXT_X[col] - ITEMW - 10), y=py(LEG_ROWS[row]),
        xanchor="left", yanchor="middle", bgcolor="rgba(0,0,0,0)", borderwidth=0,
        font=dict(family=FONT, size=FS_LEG, color="black"), itemwidth=ITEMW,
        itemclick=False, itemdoubleclick=False)

lx0, lx1, ly0, ly1, r = 207, 1182, 938, 1038, 5
path = (f"M {px(lx0 + r)} {py(ly0)} L {px(lx1 - r)} {py(ly0)} "
        f"Q {px(lx1)} {py(ly0)} {px(lx1)} {py(ly0 + r)} L {px(lx1)} {py(ly1 - r)} "
        f"Q {px(lx1)} {py(ly1)} {px(lx1 - r)} {py(ly1)} L {px(lx0 + r)} {py(ly1)} "
        f"Q {px(lx0)} {py(ly1)} {px(lx0)} {py(ly1 - r)} L {px(lx0)} {py(ly0 + r)} "
        f"Q {px(lx0)} {py(ly0)} {px(lx0 + r)} {py(ly0)} Z")

# ---------------------------------------------------------------- axes
tickfont = dict(family=FONT, size=FS_TICK, color="black")
base = dict(showline=True, linecolor="black", linewidth=1.2, mirror=True, ticks="outside",
            ticklen=6, tickwidth=1.2, tickcolor="black", showgrid=False, zeroline=False,
            tickfont=tickfont, automargin=False, ticklabelstandoff=4)
hidden = dict(showline=False, ticks="", showticklabels=False, showgrid=False, zeroline=False,
              automargin=False)


def xrange(start):
    s = pd.Timestamp(start)
    return [s - pd.Timedelta(days=0.7), s + pd.Timedelta(days=HORIZON_DAYS + 0.7)]


TEMP_RANGE = [13.89, 38.54]
TA_RANGE = [-4.61, 24.41]

layout = dict(
    width=W, height=H, margin=dict(l=0, r=0, t=0, b=0),
    paper_bgcolor="white", plot_bgcolor="white",
    font=dict(family=FONT, size=FS_TICK, color="black"),
    xaxis=dict(base, domain=xdom(XL), anchor="y", type="date", range=xrange(PEAK_START),
               tickvals=PEAK_TICKS, showticklabels=False),
    xaxis2=dict(base, domain=xdom(XR), anchor="y3", type="date", range=xrange(TYP_START),
                tickvals=TYP_TICKS, showticklabels=False),
    xaxis3=dict(base, domain=xdom(XL), anchor="y5", type="date", range=xrange(PEAK_START),
                tickvals=PEAK_TICKS, showticklabels=False),
    xaxis4=dict(base, domain=xdom(XR), anchor="y7", type="date", range=xrange(TYP_START),
                tickvals=TYP_TICKS, showticklabels=False),
    yaxis=dict(base, domain=ydom(YT), anchor="x", range=TEMP_RANGE, tickvals=TEMP_TICKS),
    yaxis2=dict(hidden, overlaying="y", anchor="x", side="right", range=[0, 0.3]),
    yaxis3=dict(base, domain=ydom(YT), anchor="x2", range=TEMP_RANGE, tickvals=TEMP_TICKS,
                showticklabels=False),
    yaxis4=dict(base, overlaying="y3", anchor="x2", side="right", range=[0, 0.3],
                tickvals=PRICE_TICKS, ticktext=[f"{v:.1f}" for v in PRICE_TICKS],
                showline=False, mirror=False),
    yaxis5=dict(base, domain=ydom(YB), anchor="x3", range=TA_RANGE, tickvals=TA_TICKS),
    yaxis6=dict(hidden, overlaying="y5", anchor="x3", side="right", range=[0, 800]),
    yaxis7=dict(base, domain=ydom(YB), anchor="x4", range=TA_RANGE, tickvals=TA_TICKS,
                showticklabels=False),
    yaxis8=dict(base, overlaying="y7", anchor="x4", side="right", range=[0, 800],
                tickvals=QRAD_TICKS, showline=False, mirror=False),
    shapes=[dict(type="path", path=path, xref="paper", yref="paper",
                 line=dict(color="#cccccc", width=1), fillcolor="rgba(255,255,255,0.8)",
                 layer="above")],
)
layout.update(legend_layouts)
fig.update_layout(**layout)

# ---------------------------------------------------------------- texts
ann = []
for ticks, xref in ((PEAK_TICKS, "x3"), (TYP_TICKS, "x4")):
    for t in ticks:
        ann.append(dict(x=t, xref=xref, y=py(858), yref="paper",
                        text=pd.Timestamp(t).strftime("%b %d"), textangle=-45,
                        xanchor="center", yanchor="top", showarrow=False,
                        font=dict(family=FONT, size=FS_TICK, color="black")))
ann.append(dict(x=px((XL[0] + XL[1]) / 2), y=py(20), xref="paper", yref="paper",
                text="<b>Peak heating period</b>", showarrow=False,
                xanchor="center", yanchor="middle", font=dict(family=FONT, size=FS_TITLE)))
ann.append(dict(x=px((XR[0] + XR[1]) / 2), y=py(20), xref="paper", yref="paper",
                text="<b>Typical heating period</b>", showarrow=False,
                xanchor="center", yanchor="middle", font=dict(family=FONT, size=FS_TITLE)))
ytitles = [
    ("Operative temperature ( <sup>∘</sup> C)", 21, (YT[0] + YT[1]) / 2),
    ("Ambient temperature ( <sup>∘</sup> C)", 21, (YB[0] + YB[1]) / 2),
    ("Price (EUR/kWh)", 1315.5, (YT[0] + YT[1]) / 2),
    ("Solar irradiation (<i>W</i>/<i>m</i><sup>2</sup>)", 1325, (YB[0] + YB[1]) / 2),
]
for text, xp, yp in ytitles:
    ann.append(dict(x=px(xp), y=py(yp), xref="paper", yref="paper", text=text,
                    textangle=-90, showarrow=False, xanchor="center", yanchor="middle",
                    font=dict(family=FONT, size=FS_LABEL, color="black")))
fig.update_layout(annotations=ann)

fig.write_html("out.html")
